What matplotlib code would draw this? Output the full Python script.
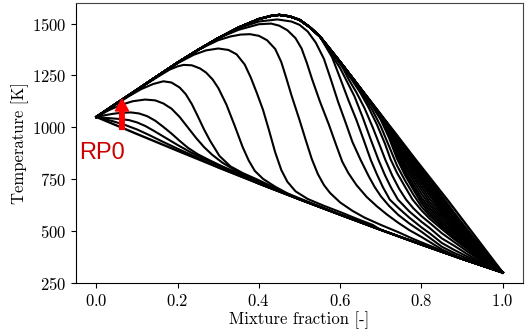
import matplotlib
matplotlib.use("Agg")
import matplotlib.pyplot as plt

plt.rcParams['font.family'] = 'serif'
plt.rcParams['font.serif'] = ['cmr10']
plt.rcParams['mathtext.fontset'] = 'cm'
plt.rcParams['axes.formatter.use_mathtext'] = True
plt.rcParams['axes.unicode_minus'] = False

# equilibrium (upper envelope) and pure mixing (lower envelope)
EQ_Z = [0.0, 0.05, 0.10, 0.15, 0.20, 0.25, 0.30, 0.35, 0.40, 0.43, 0.45, 0.475, 0.50, 0.525, 0.55, 0.60, 0.633, 0.70, 0.787, 0.866, 1.0]
EQ_T = [1050, 1116, 1181, 1247, 1312, 1373, 1430, 1481, 1522, 1537, 1542, 1535, 1518, 1483, 1438, 1315, 1231, 1062, 841, 645, 300]
MIX_Z = [0.0, 0.1, 0.2, 0.3, 0.4, 0.5, 0.6, 0.7, 0.8, 0.9, 1.0]
MIX_T = [1050, 968, 887, 807, 729, 653, 579, 506, 435, 366, 300]

# flamelets, low strain -> high strain (middle part)
fl_a_z = [0.02, 0.04, 0.07, 0.10, 0.13, 0.16, 0.20, 0.25]
fl_a_t = [1040, 1030, 1012, 990, 963, 934, 897, 853]
fl_b_z = [0.02, 0.04, 0.06, 0.08, 0.10, 0.12, 0.14, 0.17, 0.20, 0.23, 0.26, 0.30]
fl_b_t = [1046, 1043, 1040, 1035, 1024, 1007, 985, 950, 915, 882, 853, 817]
fl_c_z = [0.02, 0.04, 0.06, 0.085, 0.105, 0.125, 0.145, 0.165, 0.185, 0.205, 0.225, 0.25, 0.28, 0.31, 0.35]
fl_c_t = [1058, 1065, 1070, 1072, 1067, 1054, 1032, 1002, 970, 935, 902, 870, 840, 812, 778]
fl_d_z = [0.03, 0.06, 0.09, 0.12, 0.145, 0.165, 0.185, 0.205, 0.225, 0.245, 0.265, 0.285, 0.31, 0.34, 0.38, 0.42]
fl_d_t = [1082, 1108, 1126, 1134, 1130, 1115, 1090, 1050, 1000, 950, 905, 868, 830, 795, 756, 718]
fl_e_z = [0.04, 0.08, 0.11, 0.14, 0.165, 0.185, 0.205, 0.22, 0.235, 0.25, 0.265, 0.28, 0.303, 0.33, 0.36, 0.40, 0.44, 0.48]
fl_e_t = [1100, 1150, 1184, 1209, 1222, 1216, 1192, 1160, 1112, 1052, 990, 935, 862, 812, 780, 745, 708, 672]
fl_f_z = [0.15, 0.18, 0.20, 0.215, 0.235, 0.255, 0.27, 0.286, 0.30, 0.32, 0.34, 0.36, 0.375, 0.39, 0.41, 0.44, 0.47, 0.50, 0.54]
fl_f_t = [1242, 1278, 1294, 1301, 1299, 1284, 1264, 1231, 1190, 1110, 1010, 905, 840, 790, 752, 714, 682, 658, 627]
fl_g_z = [0.20, 0.24, 0.27, 0.30, 0.325, 0.345, 0.365, 0.38, 0.395, 0.41, 0.425, 0.44, 0.455, 0.47, 0.49, 0.52, 0.56, 0.60, 0.64, 0.68]
fl_g_t = [1309, 1350, 1371, 1380, 1373, 1352, 1303, 1240, 1165, 1085, 985, 880, 795, 738, 692, 655, 622, 592, 560, 530]
fl_h_z = [0.30, 0.33, 0.355, 0.378, 0.40, 0.42, 0.44, 0.455, 0.467, 0.48, 0.50, 0.515, 0.53, 0.545, 0.56, 0.575, 0.60, 0.63, 0.66, 0.70, 0.743, 0.78, 0.82]
fl_h_t = [1420, 1438, 1447, 1449, 1441, 1420, 1378, 1315, 1240, 1155, 1035, 940, 848, 775, 722, 684, 638, 598, 565, 530, 495, 462, 430]
fl_i_z = [0.35, 0.40, 0.43, 0.45, 0.47, 0.49, 0.505, 0.518, 0.531, 0.55, 0.572, 0.59, 0.605, 0.62, 0.64, 0.665, 0.69, 0.715, 0.743, 0.77, 0.80, 0.85]
fl_i_t = [1470, 1497, 1500, 1490, 1468, 1430, 1380, 1310, 1231, 1125, 1014, 915, 835, 780, 722, 665, 620, 580, 540, 505, 472, 412]
fl_j1_z = [0.35, 0.40, 0.445, 0.48, 0.50, 0.52, 0.54, 0.56, 0.577, 0.595, 0.612, 0.63, 0.65, 0.67, 0.685, 0.70, 0.72, 0.743, 0.77, 0.80, 0.85, 0.88, 0.92, 0.96]
fl_j1_t = [1478, 1510, 1520, 1510, 1494, 1462, 1408, 1330, 1231, 1122, 1030, 930, 844, 765, 712, 668, 622, 578, 537, 497, 425, 395, 362, 330]
fl_j2_z = [0.56, 0.58, 0.601, 0.62, 0.64, 0.658, 0.675, 0.69, 0.705, 0.722, 0.743, 0.77, 0.80, 0.82, 0.85, 0.88, 0.92, 0.96]
fl_j2_t = [1405, 1338, 1231, 1132, 1035, 938, 844, 775, 712, 652, 612, 565, 518, 490, 443, 410, 370, 330]
fl_j3_z = [0.58, 0.60, 0.614, 0.635, 0.655, 0.675, 0.694, 0.71, 0.725, 0.742, 0.77, 0.80, 0.82, 0.85, 0.88, 0.92, 0.96]
fl_j3_t = [1345, 1285, 1231, 1150, 1050, 942, 844, 770, 710, 652, 595, 545, 515, 465, 430, 380, 334]
fl_j4_z = [0.59, 0.605, 0.621, 0.64, 0.66, 0.68, 0.696, 0.711, 0.728, 0.745, 0.762, 0.78, 0.80, 0.82, 0.85, 0.88, 0.92, 0.96]
fl_j4_t = [1335, 1292, 1231, 1168, 1092, 1000, 920, 844, 768, 704, 652, 610, 572, 540, 490, 448, 392, 340]
fl_j5_z = [0.60, 0.628, 0.65, 0.67, 0.69, 0.71, 0.724, 0.74, 0.76, 0.778, 0.80, 0.82, 0.85, 0.88, 0.92, 0.96]
fl_j5_t = [1305, 1231, 1165, 1095, 1015, 922, 846, 780, 712, 652, 600, 560, 510, 462, 402, 345]

# highest strain bundle hugging the equilibrium line (dense black wedge)
K_Z = [0.65, 0.68, 0.70, 0.72, 0.74, 0.76, 0.78, 0.80, 0.82, 0.85, 0.88, 0.92, 0.96]
K_T = [
    [1176, 1080, 1004, 910, 815, 742, 676, 618, 574, 519, 470, 407, 346],
    [1185, 1100, 1036, 950, 848, 768, 700, 634, 586, 527, 477, 412, 347],
    [1186, 1102, 1040, 961, 863, 781, 713, 648, 599, 538, 485, 419, 351],
    [1186, 1104, 1043, 970, 875, 792, 725, 662, 612, 548, 493, 425, 354],
    [1186, 1105, 1046, 978, 891, 808, 742, 680, 626, 559, 502, 430, 356],
    [1186, 1106, 1048, 985, 905, 822, 758, 698, 640, 570, 510, 435, 358],
    [1187, 1107, 1050, 991, 918, 838, 772, 713, 656, 581, 519, 440, 361],
    [1187, 1108, 1052, 995, 930, 852, 785, 728, 672, 592, 527, 445, 364],
    [1187, 1109, 1054, 998, 937, 867, 798, 740, 684, 602, 536, 450, 368],
    [1187, 1109, 1055, 1000, 942, 880, 810, 752, 695, 612, 545, 455, 371],
    [1187, 1110, 1057, 1003, 946, 888, 821, 764, 708, 622, 553, 461, 375],
    [1187, 1110, 1058, 1005, 950, 895, 832, 776, 720, 632, 560, 466, 378],
    [1187, 1110, 1059, 1006, 953, 899, 839, 787, 730, 642, 568, 472, 382],
    [1187, 1110, 1059, 1007, 955, 902, 846, 797, 740, 651, 575, 478, 386],
    [1187, 1111, 1060, 1008, 957, 905, 851, 801, 745, 661, 583, 484, 389],
    [1187, 1111, 1060, 1009, 959, 907, 855, 804, 750, 670, 590, 489, 392],
]


def full_curve(z, t):
    # start on the equilibrium branch, end on the mixing line
    zz = [a for a in EQ_Z if a < z[0]] + list(z) + [a for a in MIX_Z if a > z[-1]]
    tt = [b for a, b in zip(EQ_Z, EQ_T) if a < z[0]] + list(t) + [b for a, b in zip(MIX_Z, MIX_T) if a > z[-1]]
    return zz, tt


flamelets = [
    (fl_a_z, fl_a_t), (fl_b_z, fl_b_t), (fl_c_z, fl_c_t), (fl_d_z, fl_d_t),
    (fl_e_z, fl_e_t), (fl_f_z, fl_f_t), (fl_g_z, fl_g_t), (fl_h_z, fl_h_t),
    (fl_i_z, fl_i_t), (fl_j1_z, fl_j1_t), (fl_j2_z, fl_j2_t), (fl_j3_z, fl_j3_t),
    (fl_j4_z, fl_j4_t), (fl_j5_z, fl_j5_t),
]
for kt in K_T:
    flamelets.append((K_Z, kt))

fig = plt.figure(figsize=(5.26, 3.3), dpi=100)
ax = fig.add_axes([0.1445, 0.1424, 0.85, 0.849])

ax.plot(EQ_Z, EQ_T, color='k', lw=1.7)
ax.plot(MIX_Z, MIX_T, color='k', lw=1.7)
for z, t in flamelets:
    zz, tt = full_curve(z, t)
    ax.plot(zz, tt, color='k', lw=1.5)

# reaction progress arrow
ax.annotate('', xy=(0.063, 1136), xytext=(0.063, 990),
            arrowprops=dict(facecolor='#ff0000', edgecolor='#ff0000', width=3.3,
                            headwidth=9.5, headlength=8.5, shrink=0), zorder=5)
ax.text(-0.042, 849, 'RP0', color='#cc0000', fontsize=17, family='Liberation Sans',
        ha='left', va='baseline', zorder=6)

ax.set_xlim(-0.05, 1.05)
ax.set_ylim(250, 1600)
ax.set_xticks([0.0, 0.2, 0.4, 0.6, 0.8, 1.0])
ax.set_yticks([250, 500, 750, 1000, 1250, 1500])
ax.tick_params(labelsize=12)
for s in ['top', 'right']:
    ax.spines[s].set_color('#444444')
ax.set_xlabel('Mixture fraction [-]', fontsize=12, labelpad=2)
ax.set_ylabel('Temperature [K]', fontsize=12, labelpad=2)

fig.savefig('out.png', dpi=100)
